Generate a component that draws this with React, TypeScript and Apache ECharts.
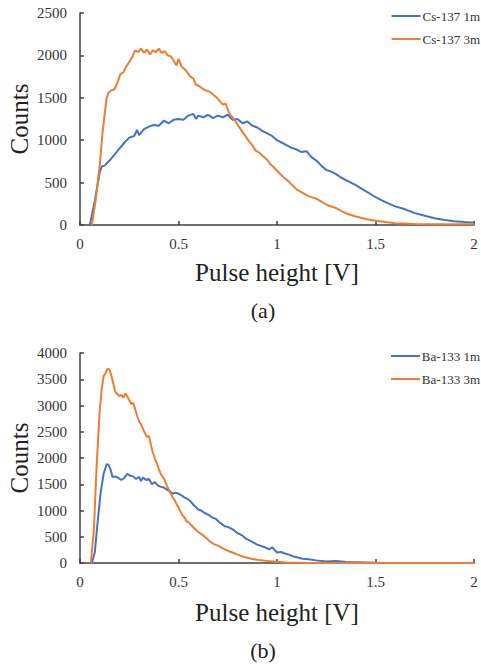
import React, { useEffect, useRef } from "react";
import * as echarts from "echarts";

// ---- Chart (a): Cs-137 ----
const cs1mX = [0.05, 0.075, 0.1, 0.11, 0.125, 0.15, 0.175, 0.2, 0.225, 0.25, 0.275, 0.29, 0.3, 0.325, 0.35, 0.375, 0.4, 0.425, 0.45, 0.475, 0.5, 0.525, 0.55, 0.575, 0.59, 0.6, 0.625, 0.65, 0.675, 0.7, 0.725, 0.75, 0.775, 0.8, 0.825, 0.85, 0.875, 0.9, 0.925, 0.95, 0.975, 1.0, 1.025, 1.05, 1.075, 1.1, 1.125, 1.15, 1.175, 1.2, 1.225, 1.25, 1.275, 1.3, 1.325, 1.35, 1.375, 1.4, 1.45, 1.5, 1.55, 1.6, 1.65, 1.7, 1.75, 1.8, 1.85, 1.9, 1.95, 2.0];
const cs1mY = [0, 280, 620, 690, 700, 760, 830, 900, 970, 1030, 1050, 1120, 1060, 1130, 1160, 1180, 1170, 1230, 1200, 1240, 1250, 1240, 1290, 1310, 1250, 1290, 1270, 1300, 1260, 1290, 1270, 1300, 1240, 1250, 1200, 1220, 1170, 1150, 1110, 1080, 1050, 1000, 970, 940, 910, 890, 860, 870, 800, 760, 700, 650, 630, 600, 560, 530, 500, 470, 400, 330, 270, 220, 185, 140, 110, 80, 60, 45, 35, 28];

const cs3mX = [0.06, 0.08, 0.1, 0.115, 0.135, 0.145, 0.16, 0.175, 0.19, 0.205, 0.22, 0.235, 0.25, 0.265, 0.28, 0.295, 0.31, 0.325, 0.34, 0.355, 0.37, 0.385, 0.4, 0.415, 0.43, 0.445, 0.46, 0.475, 0.49, 0.5, 0.515, 0.53, 0.545, 0.56, 0.575, 0.59, 0.605, 0.62, 0.635, 0.65, 0.665, 0.68, 0.695, 0.71, 0.725, 0.74, 0.755, 0.77, 0.785, 0.8, 0.815, 0.83, 0.845, 0.86, 0.875, 0.89, 0.905, 0.92, 0.935, 0.95, 0.965, 0.98, 1.0, 1.03, 1.065, 1.1, 1.13, 1.16, 1.2, 1.23, 1.26, 1.3, 1.33, 1.36, 1.4, 1.45, 1.5, 1.55, 1.6, 1.7, 1.8, 2.0];
const cs3mY = [0, 300, 700, 1100, 1500, 1560, 1590, 1600, 1680, 1780, 1800, 1870, 1920, 1980, 2060, 2040, 2080, 2030, 2070, 2010, 2060, 2040, 2080, 2030, 2050, 2000, 1990, 1940, 1880, 1960, 1870, 1840, 1800, 1750, 1730, 1650, 1640, 1610, 1590, 1580, 1560, 1530, 1500, 1460, 1420, 1430, 1330, 1280, 1240, 1180, 1130, 1080, 1030, 980, 940, 880, 860, 830, 800, 770, 720, 690, 640, 570, 500, 420, 380, 340, 310, 270, 230, 200, 160, 130, 100, 70, 50, 35, 20, 12, 8, 8];

// ---- Chart (b): Ba-133 ----
const ba1mX = [0.06, 0.075, 0.09, 0.105, 0.12, 0.135, 0.145, 0.155, 0.165, 0.18, 0.195, 0.21, 0.225, 0.24, 0.255, 0.27, 0.285, 0.3, 0.31, 0.32, 0.335, 0.35, 0.365, 0.38, 0.395, 0.41, 0.425, 0.44, 0.455, 0.47, 0.485, 0.5, 0.515, 0.53, 0.545, 0.56, 0.575, 0.59, 0.6, 0.615, 0.63, 0.645, 0.66, 0.675, 0.69, 0.705, 0.72, 0.735, 0.75, 0.765, 0.78, 0.795, 0.81, 0.825, 0.84, 0.855, 0.87, 0.885, 0.9, 0.915, 0.93, 0.945, 0.96, 0.975, 0.99, 1.0, 1.02, 1.04, 1.06, 1.08, 1.1, 1.13, 1.16, 1.2, 1.25, 1.3, 1.35, 1.4, 1.45, 1.5, 1.55];
const ba1mY = [0, 200, 800, 1350, 1700, 1880, 1870, 1780, 1640, 1650, 1620, 1580, 1620, 1700, 1660, 1650, 1600, 1640, 1560, 1630, 1580, 1600, 1500, 1540, 1480, 1450, 1440, 1400, 1370, 1320, 1340, 1320, 1290, 1250, 1220, 1180, 1110, 1060, 1020, 1000, 960, 930, 900, 860, 840, 780, 740, 700, 690, 660, 630, 580, 550, 520, 470, 440, 410, 380, 350, 330, 310, 290, 260, 300, 240, 200, 210, 180, 160, 130, 110, 80, 70, 50, 30, 40, 20, 15, 10, 5, 0];

const ba3mX = [0.055, 0.07, 0.085, 0.1, 0.11, 0.12, 0.13, 0.14, 0.15, 0.16, 0.17, 0.18, 0.19, 0.2, 0.21, 0.22, 0.23, 0.24, 0.25, 0.26, 0.27, 0.28, 0.29, 0.3, 0.31, 0.32, 0.33, 0.34, 0.35, 0.36, 0.37, 0.38, 0.39, 0.4, 0.41, 0.42, 0.43, 0.44, 0.45, 0.46, 0.47, 0.48, 0.49, 0.5, 0.51, 0.52, 0.53, 0.54, 0.55, 0.56, 0.57, 0.58, 0.59, 0.6, 0.62, 0.64, 0.66, 0.68, 0.7, 0.72, 0.74, 0.76, 0.78, 0.8, 0.82, 0.84, 0.87, 0.9, 0.95, 1.0, 1.05, 1.1, 1.15, 2.0];
const ba3mY = [0, 600, 1900, 2900, 3300, 3560, 3620, 3700, 3680, 3560, 3400, 3250, 3220, 3180, 3200, 3150, 3230, 3170, 3100, 3030, 3050, 2930, 2800, 2700, 2640, 2550, 2470, 2400, 2420, 2250, 2100, 1990, 1900, 1790, 1700, 1640, 1580, 1480, 1400, 1330, 1250, 1200, 1120, 1060, 980, 910, 870, 800, 780, 740, 700, 660, 630, 590, 540, 480, 410, 360, 330, 290, 250, 220, 190, 160, 130, 110, 80, 60, 40, 25, 10, 5, 0, 0];

const xTicks = { min: 0, max: 2, interval: 0.5 };
const yMaxA = 2500;
const yMaxB = 4000;
const yInterval = 500;

const BLUE = "#4472C4";
const ORANGE = "#ED7D31";
const AXIS = "#404040";
const FONT = "Liberation Serif";

const zip = (xs: number[], ys: number[]) => xs.map((x, i) => [x, ys[i]]);

export default function App() {
  const ref = useRef<HTMLDivElement>(null);
  useEffect(() => {
    if (!ref.current) return;
    const chart = echarts.init(ref.current, null, { renderer: "svg" });
    const axisCommon = {
      axisLine: { show: true, lineStyle: { color: AXIS, width: 1.5 } },
      axisTick: { show: true, inside: true, length: 4, lineStyle: { color: AXIS, width: 1.5 } },
      splitLine: { show: false },
    };
    const xAxis = (gi: number) => ({
      type: "value",
      gridIndex: gi,
      ...xTicks,
      ...axisCommon,
      axisLabel: { fontFamily: FONT, fontSize: 15, color: "#333", margin: 11, formatter: (v: number) => String(v) },
    });
    const yAxis = (gi: number, max: number) => ({
      type: "value",
      gridIndex: gi,
      min: 0,
      max,
      interval: yInterval,
      ...axisCommon,
      axisLabel: { fontFamily: FONT, fontSize: 15, color: "#333", margin: 13, formatter: (v: number) => String(v) },
    });
    const line = (name: string, color: string, gi: number, data: number[][]) => ({
      name,
      type: "line",
      xAxisIndex: gi,
      yAxisIndex: gi,
      data,
      symbol: "none",
      lineStyle: { color, width: 2 },
      itemStyle: { color },
    });
    const legend = (top: number, names: string[]) => ({
      orient: "vertical",
      right: 1,
      top,
      padding: 0,
      data: names,
      icon: "rect",
      itemWidth: 29,
      itemHeight: 2,
      itemGap: 9,
      textStyle: { fontFamily: FONT, fontSize: 13, color: "#333", lineHeight: 14, padding: [0, 0, 0, -3] },
    });
    const txt = (text: string, x: number, y: number, size: number, rot = 0) => ({
      type: "text",
      x,
      y,
      rotation: rot,
      style: {
        text,
        fontFamily: FONT,
        fontSize: size,
        fill: "#222",
        textAlign: "center",
        textVerticalAlign: "middle",
      },
    });
    chart.setOption({
      animation: false,
      backgroundColor: "#fff",
      grid: [
        { left: 80, top: 13, width: 394, height: 212 },
        { left: 80, top: 353, width: 394, height: 210 },
      ],
      xAxis: [xAxis(0), xAxis(1)],
      yAxis: [yAxis(0, yMaxA), yAxis(1, yMaxB)],
      legend: [
        legend(9, ["Cs-137 1m", "Cs-137 3m"]),
        legend(349, ["Ba-133 1m", "Ba-133 3m"]),
      ],
      series: [
        line("Cs-137 1m", BLUE, 0, zip(cs1mX, cs1mY)),
        line("Cs-137 3m", ORANGE, 0, zip(cs3mX, cs3mY)),
        line("Ba-133 1m", BLUE, 1, zip(ba1mX, ba1mY)),
        line("Ba-133 3m", ORANGE, 1, zip(ba3mX, ba3mY)),
      ],
      graphic: [
        txt("Counts", 19, 119, 25, Math.PI / 2),
        txt("Pulse height [V]", 277, 272, 25),
        txt("(a)", 263, 310, 22),
        txt("Counts", 19, 458, 25, Math.PI / 2),
        txt("Pulse height [V]", 277, 612, 25),
        txt("(b)", 263, 650, 22),
      ],
    });
    return () => chart.dispose();
  }, []);
  return (
    <div
      ref={ref}
      style={{ position: "fixed", left: 0, top: 0, width: 481, height: 666, background: "#fff" }}
    />
  );
}
